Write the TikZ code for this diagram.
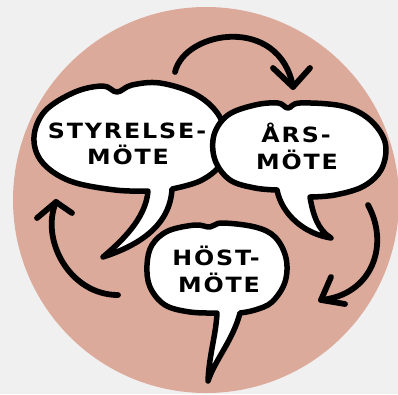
\documentclass[tikz,border=0pt]{standalone}
\usepackage{fontspec}
\usepackage{graphicx}
\newfontfamily\comic[LetterSpace=8]{DejaVu Sans Bold}
\newcommand\widetext[1]{\scalebox{1.13}[1]{#1}}
\definecolor{bg}{HTML}{F0F0F0}
\definecolor{disc}{HTML}{DCAA9B}
\begin{document}
\begin{tikzpicture}[x=1pt,y=-1pt,
  bubble/.style={fill=white,draw=black,line width=5.5pt,line join=round},
  cyc/.style={draw=black,line width=5.8pt,line cap=round,line join=round},
  lbl/.style={font=\comic\fontsize{21}{24}\selectfont,text=black,inner sep=0pt,anchor=base}]
\fill[bg] (0,0) rectangle (398,394);
\useasboundingbox (0,0) rectangle (398,394);
\fill[disc] (206,200) circle (193);
% cycle arrows
\coordinate (a1s) at (175,72); \coordinate (a1t) at (293,87);
\coordinate (a1l) at (273,68); \coordinate (a1r) at (310,68);
\draw[cyc] (a1s) .. controls (185,30) and (280,15) .. (a1t);
\draw[cyc] (a1l) -- (a1t) -- (a1r);
\coordinate (a2s) at (368,205); \coordinate (a2t) at (321,300);
\coordinate (a2l) at (331,277); \coordinate (a2r) at (345,304);
\draw[cyc] (a2s) .. controls (390,245) and (372,295) .. (a2t);
\draw[cyc] (a2l) -- (a2t) -- (a2r);
\coordinate (a3s) at (118,295); \coordinate (a3t) at (56,202);
\coordinate (a3l) at (37,218); \coordinate (a3r) at (72,213);
\draw[cyc] (a3s) .. controls (70,295) and (40,240) .. (a3t);
\draw[cyc] (a3l) -- (a3t) -- (a3r);
% bubble 1
\filldraw[bubble] plot[smooth,tension=0.6] coordinates {(148,191) (115,190) (70,181) (42,162) (34,137) (45,111) (75,92) (103,86) (117,92) (132,85) (160,83) (195,94) (218,114) (226,140) (220,165) (200,181) (172,189)}
  .. controls (170,225) and (140,245) .. (103,257)
  .. controls (128,236) and (146,215) .. (148,191) -- cycle;
% bubble 2
\filldraw[bubble] plot[smooth,tension=0.6] coordinates {(277,190) (255,188) (230,180) (215,160) (214,135) (228,115) (255,105) (278,103) (288,108) (300,103) (342,106) (369,119) (385,142) (382,168) (364,186) (335,195) (310,197)}
  .. controls (313,215) and (318,230) .. (331,238)
  .. controls (305,234) and (282,215) .. (277,190) -- cycle;
% bubble 3
\filldraw[bubble] plot[smooth,tension=0.6] coordinates {(217,313) (190,312) (165,305) (150,287) (147,265) (152,245) (168,231) (195,225) (210,227) (222,223) (255,227) (275,237) (286,258) (285,282) (272,302) (255,310) (240,313)}
  .. controls (233,340) and (215,360) .. (208,381)
  .. controls (209,355) and (216,335) .. (217,313) -- cycle;
% labels
\node[lbl] (t1a) at (127,138) {\widetext{STYRELSE-}};
\node[lbl] (t1b) at (128,164) {\widetext{MÖTE}};
\node[lbl] (t2a) at (296,142) {\widetext{ÅRS-}};
\node[lbl] (t2b) at (297,169) {\widetext{MÖTE}};
\node[lbl] (t3a) at (216,265) {\widetext{HÖST-}};
\node[lbl] (t3b) at (219,292) {\widetext{MÖTE}};
\end{tikzpicture}
\end{document}
